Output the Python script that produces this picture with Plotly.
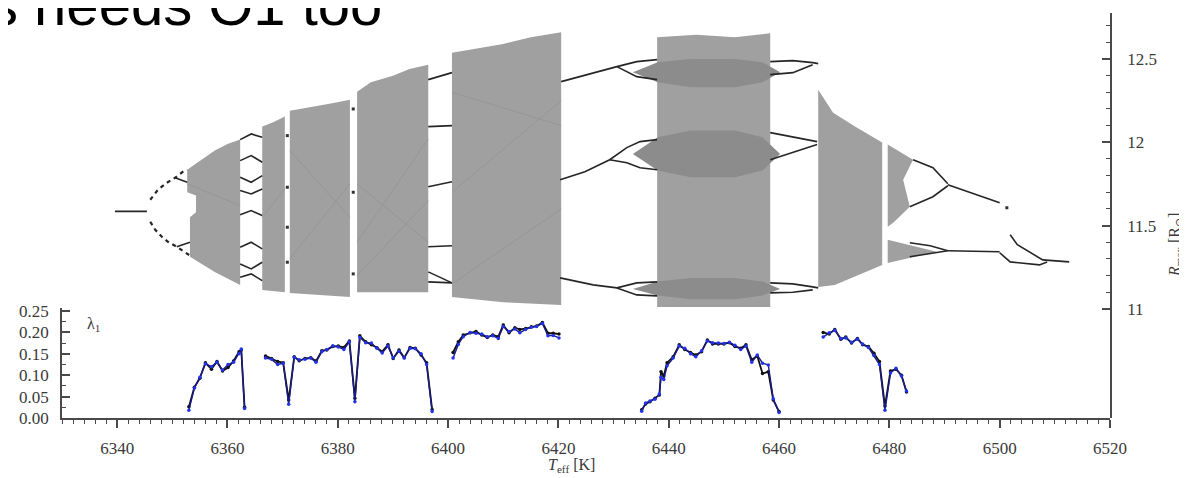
import plotly.graph_objects as go

# ---------------- Lyapunov exponent lambda_1 (lower panel) ----------------
lam1_T = [6353.0, 6354.0, 6355.0, 6356.0, 6357.1, 6358.1, 6359.1, 6360.1, 6361.1, 6362.1, 6362.5, 6363.1]
lam1_k = [0.026, 0.072, 0.093, 0.129, 0.114, 0.132, 0.110, 0.118, 0.133, 0.155, 0.159, 0.025]
lam1_b = [0.018, 0.070, 0.095, 0.127, 0.120, 0.130, 0.112, 0.125, 0.130, 0.150, 0.161, 0.022]

lam2_T = [6366.9, 6368.0, 6369.1, 6370.1, 6371.1, 6372.1, 6373.0, 6374.05, 6375.1, 6376.05, 6377.1,
          6378.0, 6379.1, 6380.1, 6381.1, 6382.1, 6383.1, 6384.0, 6385.05, 6386.1, 6387.1, 6388.05,
          6389.1, 6390.05, 6391.1, 6392.05, 6393.1, 6394.05, 6395.1, 6396.1, 6397.1]
lam2_k = [0.145, 0.139, 0.132, 0.129, 0.042, 0.143, 0.134, 0.139, 0.141, 0.133, 0.157, 0.159, 0.167,
          0.168, 0.165, 0.180, 0.046, 0.192, 0.178, 0.171, 0.164, 0.155, 0.171, 0.139, 0.159, 0.141,
          0.165, 0.163, 0.147, 0.129, 0.020]
lam2_b = [0.140, 0.137, 0.125, 0.128, 0.032, 0.142, 0.136, 0.137, 0.140, 0.130, 0.155, 0.160, 0.169,
          0.166, 0.160, 0.178, 0.038, 0.188, 0.176, 0.175, 0.163, 0.152, 0.168, 0.141, 0.156, 0.140,
          0.163, 0.162, 0.150, 0.125, 0.015]

lam3_T = [6400.9, 6401.85, 6402.75, 6404.0, 6405.05, 6406.1, 6407.1, 6408.1, 6409.1, 6410.0, 6411.05,
          6412.1, 6413.0, 6414.05, 6415.1, 6416.05, 6417.1, 6418.1, 6419.05, 6420.1]
lam3_k = [0.153, 0.178, 0.194, 0.199, 0.202, 0.194, 0.188, 0.194, 0.190, 0.217, 0.199, 0.211, 0.207,
          0.209, 0.213, 0.215, 0.223, 0.198, 0.198, 0.196]
lam3_b = [0.140, 0.172, 0.190, 0.200, 0.198, 0.196, 0.190, 0.192, 0.186, 0.214, 0.202, 0.208, 0.199,
          0.207, 0.212, 0.214, 0.221, 0.192, 0.193, 0.187]

lam4_T = [6435.1, 6435.8, 6436.6, 6437.5, 6438.3, 6438.6, 6439.1, 6439.7, 6440.8, 6441.9, 6442.9,
          6443.95, 6444.9, 6445.95, 6447.0, 6447.95, 6449.0, 6450.0, 6451.0, 6452.0, 6453.05, 6454.0,
          6455.05, 6456.05, 6457.0, 6458.05, 6458.95, 6460.0]
lam4_k = [0.019, 0.033, 0.038, 0.046, 0.054, 0.108, 0.098, 0.129, 0.143, 0.171, 0.160, 0.153, 0.147,
          0.155, 0.182, 0.173, 0.173, 0.173, 0.176, 0.167, 0.163, 0.171, 0.136, 0.145, 0.104, 0.108,
          0.042, 0.015]
lam4_b = [0.016, 0.035, 0.040, 0.044, 0.056, 0.095, 0.090, 0.122, 0.140, 0.168, 0.163, 0.150, 0.143,
          0.157, 0.180, 0.176, 0.175, 0.174, 0.177, 0.170, 0.160, 0.168, 0.130, 0.147, 0.128, 0.124,
          0.045, 0.013]

lam5_T = [6468.0, 6469.1, 6470.1, 6471.2, 6472.1, 6473.15, 6474.2, 6475.15, 6476.2, 6477.2, 6478.2,
          6479.2, 6480.2, 6481.2, 6482.2, 6483.1]
lam5_k = [0.200, 0.196, 0.207, 0.184, 0.189, 0.175, 0.186, 0.171, 0.167, 0.151, 0.132, 0.028, 0.110,
          0.114, 0.100, 0.061]
lam5_b = [0.189, 0.199, 0.205, 0.186, 0.187, 0.177, 0.184, 0.173, 0.165, 0.146, 0.125, 0.018, 0.105,
          0.116, 0.098, 0.063]

# ---------------- Bifurcation diagram R_max (upper panel) ----------------
# chaotic bands (outline polygons, T in K, R in R_sun)
bandA_T = [6352.7, 6355.0, 6357.7, 6360.0, 6362.3, 6362.3, 6357.7, 6353.2, 6353.2, 6354.3, 6354.3, 6352.7]
bandA_R = [11.835, 11.89, 11.95, 11.99, 12.016, 11.144, 11.222, 11.313, 11.55, 11.58, 11.68, 11.70]
bandB_T = [6366.3, 6368.3, 6370.4, 6370.4, 6366.3]
bandB_R = [12.094, 12.12, 12.154, 11.10, 11.114]
bandC_T = [6371.3, 6375.0, 6379.0, 6382.2, 6382.2, 6371.3]
bandC_R = [12.19, 12.21, 12.235, 12.256, 11.072, 11.096]
bandD_T = [6383.5, 6386.0, 6390.0, 6393.0, 6396.4, 6396.4, 6383.5]
bandD_R = [12.304, 12.36, 12.40, 12.44, 12.466, 11.10, 11.10]
bandE_T = [6400.7, 6405.0, 6410.0, 6415.0, 6420.5, 6420.5, 6410.0, 6400.7]
bandE_R = [12.538, 12.56, 12.59, 12.63, 12.66, 11.024, 11.04, 11.072]
bandF_T = [6437.9, 6445.0, 6452.0, 6458.4, 6458.4, 6437.9]
bandF_R = [12.63, 12.645, 12.63, 12.655, 11.012, 11.012]
bandG1_T = [6467.1, 6469.8, 6474.0, 6478.7, 6478.7, 6470.1, 6467.1]
bandG1_R = [12.316, 12.178, 12.09, 11.998, 11.264, 11.144, 11.132]
bandG2_T = [6479.7, 6484.3, 6482.5, 6483.7, 6480.7, 6479.7]
bandG2_R = [11.986, 11.895, 11.775, 11.613, 11.517, 11.493]
bandG3_T = [6479.7, 6488.6, 6479.7]
bandG3_R = [11.415, 11.343, 11.276]

# denser (darker) regions inside band F
lensU_T = [6433.5, 6438.0, 6444.0, 6452.0, 6457.0, 6460.2, 6457.0, 6452.0, 6444.0, 6438.0, 6433.5]
lensU_R = [12.42, 12.48, 12.50, 12.50, 12.48, 12.42, 12.36, 12.33, 12.33, 12.36, 12.42]
lensM_T = [6433.5, 6438.0, 6444.0, 6452.0, 6457.0, 6460.2, 6457.0, 6452.0, 6444.0, 6438.0, 6433.5]
lensM_R = [11.93, 12.03, 12.07, 12.07, 12.03, 11.93, 11.83, 11.79, 11.79, 11.83, 11.93]
lensL_T = [6433.5, 6438.0, 6444.0, 6452.0, 6457.0, 6460.2, 6457.0, 6452.0, 6444.0, 6438.0, 6433.5]
lensL_R = [11.12, 11.165, 11.185, 11.185, 11.165, 11.12, 11.08, 11.058, 11.058, 11.08, 11.12]

# faint denser filaments inside the chaotic bands
fil_T = [[6371.3, 6382.2], [6371.3, 6382.2], [6383.5, 6396.4], [6383.5, 6396.4], [6383.5, 6396.4],
         [6400.7, 6420.5], [6400.7, 6420.5], [6400.7, 6420.5], [6352.7, 6362.3], [6366.3, 6370.4]]
fil_R = [[11.30, 11.75], [11.95, 11.55], [11.40, 12.02], [11.75, 11.40], [11.20, 11.65],
         [11.70, 12.25], [11.15, 11.60], [12.30, 12.10], [11.75, 11.62], [11.55, 11.72]]

# periodic branches (solid lines)
fp_T = [6339.6, 6345.4]
fp_R = [11.585, 11.585]
p4u_T = [6350.5, 6352.7]
p4u_R = [11.787, 11.76]
p4l_T = [6350.8, 6353.2]
p4l_R = [11.373, 11.40]

winAB_T = [6362.3, 6364.3, 6366.3]
winAB_R = [[12.016, 12.05, 12.03], [11.89, 11.92, 11.88], [11.79, 11.76, 11.80], [11.71, 11.69, 11.72],
           [11.565, 11.59, 11.56], [11.37, 11.40, 11.36], [11.27, 11.24, 11.28], [11.19, 11.21, 11.17]]
winDE_T = [6396.4, 6400.7]
winDE_R = [[12.376, 12.418], [12.094, 12.100], [11.733, 11.763], [11.373, 11.379],
           [11.222, 11.156], [11.162, 11.156]]

upLA_T = [6420.5, 6426.3, 6430.6, 6434.2, 6437.9]
upLA_R = [12.364, 12.418, 12.454, 12.484, 12.496]
upLB_T = [6430.6, 6434.2, 6437.9]
upLB_R = [12.454, 12.394, 12.376]
upRA_T = [6458.4, 6462.5, 6466.1, 6467.1]
upRA_R = [12.484, 12.490, 12.478, 12.472]
upRB_T = [6458.4, 6462.5, 6466.1]
upRB_R = [12.406, 12.418, 12.466]

midLA_T = [6420.3, 6424.8, 6429.3, 6432.4, 6434.8, 6437.9]
midLA_R = [11.775, 11.823, 11.895, 11.968, 12.004, 12.016]
midLB_T = [6429.3, 6432.4, 6434.8, 6437.9]
midLB_R = [11.895, 11.877, 11.847, 11.835]
midRA_T = [6458.4, 6462.5, 6466.9]
midRA_R = [12.058, 12.034, 12.004]
midRB_T = [6458.4, 6462.5, 6466.9]
midRB_R = [11.895, 11.938, 11.986]

lowLA_T = [6420.3, 6426.3, 6430.6, 6434.2, 6437.9]
lowLA_R = [11.186, 11.144, 11.126, 11.156, 11.162]
lowLB_T = [6430.6, 6434.2, 6437.9]
lowLB_R = [11.126, 11.084, 11.078]
lowRA_T = [6458.4, 6462.5, 6466.1, 6467.1]
lowRA_R = [11.156, 11.150, 11.132, 11.126]
lowRB_T = [6458.4, 6462.5, 6466.1]
lowRB_R = [11.096, 11.100, 11.114]

rUa_T = [6484.3, 6487.9, 6490.6]
rUa_R = [11.895, 11.847, 11.751]
rUb_T = [6483.7, 6487.9, 6490.6]
rUb_R = [11.613, 11.673, 11.739]
rU_T = [6490.6, 6500.0]
rU_R = [11.745, 11.637]
rU2_T = [6501.9, 6503.2, 6507.8, 6512.6]
rU2_R = [11.445, 11.385, 11.294, 11.282]
rLa_T = [6483.7, 6487.4, 6490.6]
rLa_R = [11.397, 11.379, 11.349]
rLb_T = [6483.7, 6487.4, 6490.6]
rLb_R = [11.313, 11.331, 11.349]
rL_T = [6490.6, 6500.0]
rL_R = [11.349, 11.343]
rL2_T = [6500.0, 6501.9, 6507.2, 6508.6]
rL2_R = [11.337, 11.282, 11.264, 11.282]

# dotted period-2 branches
p2u_T = [6346.0, 6347.4, 6349.0, 6350.5, 6351.9, 6352.7]
p2u_R = [11.655, 11.715, 11.757, 11.787, 11.823, 11.835]
p2l_T = [6346.0, 6346.9, 6348.1, 6349.2, 6350.8, 6352.3, 6353.2]
p2l_R = [11.523, 11.475, 11.433, 11.403, 11.373, 11.337, 11.32]
dots_T = [6501.3, 6370.85, 6370.85, 6370.85, 6370.85, 6382.8, 6382.8, 6382.8]
dots_R = [11.607, 12.04, 11.73, 11.49, 11.28, 12.20, 11.70, 11.21]

# axis ticks
x_ticks = [6340, 6360, 6380, 6400, 6420, 6440, 6460, 6480, 6500, 6520]
lam_ticks = [0.0, 0.05, 0.10, 0.15, 0.20, 0.25]
r_ticks = [11, 11.5, 12, 12.5]
r_ticklabels = ["11", "11.5", "12", "12.5"]
r_minor = [11.1, 11.2, 11.3, 11.4, 11.6, 11.7, 11.8, 11.9, 12.1, 12.2, 12.3, 12.4, 12.6, 12.7]

fig = go.Figure()

BAND = "#a0a0a0"
bands = [(bandA_T, bandA_R), (bandB_T, bandB_R), (bandC_T, bandC_R), (bandD_T, bandD_R),
         (bandE_T, bandE_R), (bandF_T, bandF_R), (bandG1_T, bandG1_R), (bandG2_T, bandG2_R),
         (bandG3_T, bandG3_R)]
for bt, br in bands:
    fig.add_trace(go.Scatter(x=bt, y=br, xaxis="x", yaxis="y2", mode="lines", fill="toself",
                             fillcolor=BAND, line=dict(width=0, color=BAND), hoverinfo="skip"))
for lt, lr in [(lensU_T, lensU_R), (lensM_T, lensM_R), (lensL_T, lensL_R)]:
    fig.add_trace(go.Scatter(x=lt, y=lr, xaxis="x", yaxis="y2", mode="lines", fill="toself",
                             fillcolor="#8c8c8c", line=dict(width=0, color="#8c8c8c"), hoverinfo="skip"))

fx, fy = [], []
for t, r in zip(fil_T, fil_R):
    fx += list(t) + [None]
    fy += list(r) + [None]
fig.add_trace(go.Scatter(x=fx, y=fy, xaxis="x", yaxis="y2", mode="lines",
                         line=dict(color="#969696", width=1.0), hoverinfo="skip"))

# solid branch lines
segs = [(fp_T, fp_R), (p4u_T, p4u_R), (p4l_T, p4l_R),
        (upLA_T, upLA_R), (upLB_T, upLB_R), (upRA_T, upRA_R), (upRB_T, upRB_R),
        (midLA_T, midLA_R), (midLB_T, midLB_R), (midRA_T, midRA_R), (midRB_T, midRB_R),
        (lowLA_T, lowLA_R), (lowLB_T, lowLB_R), (lowRA_T, lowRA_R), (lowRB_T, lowRB_R),
        (rUa_T, rUa_R), (rUb_T, rUb_R), (rU_T, rU_R), (rU2_T, rU2_R),
        (rLa_T, rLa_R), (rLb_T, rLb_R), (rL_T, rL_R), (rL2_T, rL2_R)]
segs += [(winAB_T, r) for r in winAB_R]
segs += [(winDE_T, r) for r in winDE_R]
sx, sy = [], []
for t, r in segs:
    sx += list(t) + [None]
    sy += list(r) + [None]
fig.add_trace(go.Scatter(x=sx, y=sy, xaxis="x", yaxis="y2", mode="lines",
                         line=dict(color="#262626", width=1.6), hoverinfo="skip"))

# dashed period-2 branches
dx, dy = [], []
for t, r in [(p2u_T, p2u_R), (p2l_T, p2l_R)]:
    dx += list(t) + [None]
    dy += list(r) + [None]
fig.add_trace(go.Scatter(x=dx, y=dy, xaxis="x", yaxis="y2", mode="lines",
                         line=dict(color="#262626", width=2.2, dash="4px,4px"), hoverinfo="skip"))
fig.add_trace(go.Scatter(x=dots_T, y=dots_R, xaxis="x", yaxis="y2", mode="markers",
                         marker=dict(color="#333333", size=3, symbol="square"), hoverinfo="skip"))

# Lyapunov curves
kx, ky, bx, by = [], [], [], []
for t, k, b in [(lam1_T, lam1_k, lam1_b), (lam2_T, lam2_k, lam2_b), (lam3_T, lam3_k, lam3_b),
                (lam4_T, lam4_k, lam4_b), (lam5_T, lam5_k, lam5_b)]:
    kx += list(t) + [None]
    ky += list(k) + [None]
    bx += list(t) + [None]
    by += list(b) + [None]
fig.add_trace(go.Scatter(x=kx, y=ky, xaxis="x", yaxis="y", mode="lines+markers",
                         line=dict(color="#111111", width=1.8), marker=dict(color="#111111", size=3.5),
                         hoverinfo="skip"))
fig.add_trace(go.Scatter(x=bx, y=by, xaxis="x", yaxis="y", mode="lines+markers",
                         line=dict(color="#1a1a8a", width=1.4), marker=dict(color="#2233ee", size=3.5),
                         hoverinfo="skip"))

SERIF = "Liberation Serif"
TXT = "#3a3a3a"
AX = "#4a4a4a"
W = 1048.0   # plot-area width (px)
H = 405.0    # plot-area height (px)
PAGE = 8     # the page places the figure 8 px from the top-left corner

fig.update_layout(
    width=1187, height=478,
    margin=dict(l=62 - PAGE, r=1187 - 1110 + PAGE, t=13 - PAGE, b=478 - 418 + PAGE, autoexpand=False),
    paper_bgcolor="white", plot_bgcolor="rgba(0,0,0,0)",
    showlegend=False,
    xaxis=dict(domain=[0, 1], range=[6330, 6520], anchor="y", showline=True, linecolor=AX, linewidth=1.6,
               ticks="outside", ticklen=8, tickwidth=1.6, tickcolor=AX, tickvals=x_ticks, tickformat="d",
               minor=dict(ticks="outside", dtick=2, tick0=6330, ticklen=4, tickwidth=1.3, tickcolor=AX),
               showgrid=False, zeroline=False, ticklabelstandoff=6, automargin=False,
               tickfont=dict(family=SERIF, size=17, color=TXT)),
    yaxis=dict(domain=[0, 110 / H], range=[0, 0.257], anchor="x", side="left", showline=True,
               linecolor=AX, linewidth=1.6, ticks="inside", ticklen=8, tickwidth=1.6, tickcolor=AX,
               tickvals=lam_ticks, tickformat=".2f", automargin=False,
               minor=dict(ticks="inside", dtick=0.025, tick0=0, ticklen=4, tickwidth=1.3, tickcolor=AX),
               showgrid=False, zeroline=False, ticklabelstandoff=8,
               tickfont=dict(family=SERIF, size=17, color=TXT)),
    yaxis2=dict(domain=[0, 1], range=[10.345, 12.776], anchor="x", side="right", showline=True,
                linecolor=AX, linewidth=1.6, ticks="inside", ticklen=8, tickwidth=1.6, tickcolor=AX,
                tickvals=r_ticks, ticktext=r_ticklabels, automargin=False,
                minor=dict(ticks="inside", tickvals=r_minor, ticklen=4, tickwidth=1.3, tickcolor=AX),
                showgrid=False, zeroline=False, ticklabelstandoff=12,
                tickfont=dict(family=SERIF, size=17, color=TXT)),
    annotations=[
        dict(text="λ<sub>1</sub>", xref="paper", yref="paper", x=(93 - 62) / W, y=(418 - 324) / H,
             xanchor="center", yanchor="middle", showarrow=False,
             font=dict(family=SERIF, size=16, color=TXT)),
        dict(text="<i>T</i><sub>eff</sub> [K]", xref="paper", yref="paper", x=(571 - 62) / W,
             y=(418 - 465) / H, xanchor="center", yanchor="middle", showarrow=False,
             font=dict(family=SERIF, size=16, color=TXT)),
        dict(text="<i>R</i><sub>max</sub> [R<sub>⊙</sub>]", xref="paper", yref="paper",
             x=(1175 - 62) / W, y=(418 - 245) / H, xanchor="center", yanchor="middle",
             textangle=-90, showarrow=False, font=dict(family=SERIF, size=16, color=TXT)),
        dict(text="s needs O1 too", xref="paper", yref="paper", x=(-13 - 62) / W, y=(418 - 4) / H,
             xanchor="left", yanchor="middle", showarrow=False,
             font=dict(family="Liberation Sans", size=58, color="black")),
    ],
)

fig.write_html("out.html")
